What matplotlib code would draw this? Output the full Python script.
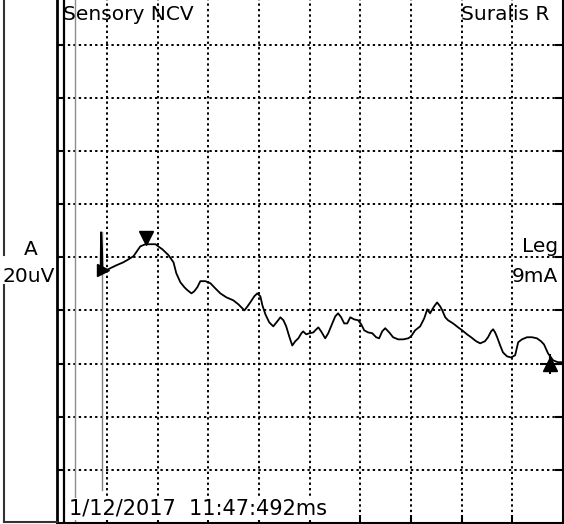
# Sensory NCV trace (Suralis R), redrawn from the scanned printout

import numpy as np
import matplotlib.pyplot as plt

# time in ms (2 ms / div), amplitude in uV (20 uV / div)
t_ms = [1.74, 1.76, 1.80, 1.82, 1.89, 1.97, 2.13, 2.37, 2.64, 2.84,
        3.04, 3.20, 3.31, 3.51, 3.71, 3.91, 4.06, 4.18, 4.42, 4.62,
        4.73, 4.89, 5.05, 5.17, 5.33, 5.44, 5.56, 5.68, 5.88, 6.08,
        6.27, 6.47, 6.71, 6.98, 7.18, 7.42, 7.54, 7.65, 7.81, 7.93,
        8.05, 8.13, 8.25, 8.40, 8.56, 8.72, 8.84, 8.96, 9.07, 9.19,
        9.31, 9.43, 9.55, 9.67, 9.74, 9.86, 9.98, 10.14, 10.26, 10.34,
        10.45, 10.61, 10.73, 10.89, 11.01, 11.12, 11.24, 11.36, 11.48, 11.60,
        11.76, 11.91, 12.03, 12.15, 12.31, 12.47, 12.62, 12.74, 12.86, 12.98,
        13.14, 13.29, 13.49, 13.69, 13.89, 14.00, 14.16, 14.36, 14.52, 14.64,
        14.75, 14.91, 15.03, 15.15, 15.23, 15.35, 15.46, 15.66, 15.86, 16.02,
        16.21, 16.37, 16.57, 16.73, 16.92, 17.04, 17.16, 17.24, 17.32, 17.40,
        17.52, 17.63, 17.79, 17.95, 18.11, 18.23, 18.38, 18.58, 18.78, 18.97,
        19.13, 19.25, 19.41, 19.61, 19.80, 19.96]
amp_uv = [-5.6, 9.4, 2.6, -5.6, -5.3, -4.9, -4.1, -3.0, -1.9, -0.8,
          0.4, 2.6, 4.1, 4.9, 4.9, 4.9, 3.8, 3.0, 0.8, -1.9,
          -6.0, -9.4, -11.3, -12.4, -13.6, -12.8, -11.3, -9.0, -9.0, -9.8,
          -11.7, -13.6, -15.1, -16.2, -17.7, -20.0, -18.5, -17.0, -14.7, -13.6,
          -14.7, -18.1, -21.5, -24.5, -26.0, -24.1, -22.6, -23.7, -26.0, -29.8,
          -33.2, -31.6, -30.5, -28.6, -27.9, -29.0, -28.6, -28.3, -27.1, -26.4,
          -27.9, -30.5, -28.6, -24.9, -22.2, -21.1, -22.6, -24.9, -24.9, -22.6,
          -23.4, -23.7, -25.2, -27.5, -28.3, -28.6, -30.1, -30.5, -27.9, -26.7,
          -28.3, -30.1, -30.9, -30.9, -30.5, -29.8, -27.5, -26.0, -23.0, -19.6,
          -21.1, -18.5, -17.0, -18.5, -19.9, -22.6, -23.7, -24.9, -26.4, -27.5,
          -29.0, -30.1, -31.6, -32.4, -31.6, -30.1, -27.9, -27.1, -28.3, -30.1,
          -33.2, -35.8, -37.3, -37.7, -36.9, -32.0, -30.9, -30.1, -30.1, -30.5,
          -31.6, -32.8, -36.2, -38.8, -39.5, -39.5]

# cursor marks
onset = (1.85, -4.9)
peak = (3.55, 7.4)
end_mark = (19.49, -40.3)

title_left = "Sensory NCV"
title_right = "Suralis R"
gain_lines = ["A", "20uV"]
stim_lines = ["Leg", "9mA"]
stamp = "1/12/2017  11:47:492ms"

W, H = 564, 524
fig = plt.figure(figsize=(W / 100, H / 100), dpi=100)
ax = fig.add_axes([56.5 / W, 1 / H, (563 - 56.5) / W, 523 / H])

ax.set_xlim(0, 20)
ax.set_ylim(-100, 96.8)
ax.set_xticks(np.arange(2, 20, 2))
ax.set_yticks(np.arange(-80, 100, 20))
ax.grid(True, color="black", linestyle=(0, (1.2, 1.6)), linewidth=1.4)
ax.tick_params(direction="in", length=6, width=1.5, right=True,
               labelleft=False, labelbottom=False)
ax.spines["top"].set_visible(False)
ax.spines["left"].set_linewidth(2)
ax.spines["bottom"].set_linewidth(1.5)
ax.spines["right"].set_linewidth(1.5)

# stimulus / reference lines near the left edge
ax.axvline(0.30, color="black", lw=1.6)
ax.axvline(0.75, color="0.55", lw=1.0)
ax.plot([1.78, 1.78], [9.4, -87.6], color="0.5", lw=1.0)

# the response
ax.plot(t_ms, amp_uv, color="black", lw=1.3)
ax.plot(*onset, marker=">", ms=9, color="black")
ax.plot(*peak, marker="v", ms=10, color="black")
ax.plot(*end_mark, marker="^", ms=10, color="black")
ax.plot(*end_mark, marker="+", ms=14, mew=1.5, color="black")

# outer frame remains of the scan
px = lambda x: x / W
py = lambda y: 1 - y / H
fig.add_artist(plt.Line2D([px(4), px(4)], [py(0), py(255)], color="0.2", lw=1.5))
fig.add_artist(plt.Line2D([px(4), px(4)], [py(285), py(522)], color="0.2", lw=1.5))
fig.add_artist(plt.Line2D([px(4), px(57)], [py(522), py(522)], color="0.2", lw=1.5))

fs = 14.5
fig.text(px(63), py(20), title_left, fontsize=fs, va="baseline", ha="left")
fig.text(px(461), py(20), title_right, fontsize=fs, va="baseline", ha="left")
fig.text(px(31), py(255), gain_lines[0], fontsize=fs, va="baseline", ha="center")
fig.text(px(29), py(282), gain_lines[1], fontsize=fs, va="baseline", ha="center")
fig.text(px(558), py(252), stim_lines[0], fontsize=fs, va="baseline", ha="right")
fig.text(px(558), py(282), stim_lines[1], fontsize=fs, va="baseline", ha="right")
fig.text(px(69), py(515), stamp, fontsize=15, va="baseline", ha="left",
         bbox=dict(facecolor="white", edgecolor="none", pad=0.5))

fig.savefig("out.png", dpi=100)
